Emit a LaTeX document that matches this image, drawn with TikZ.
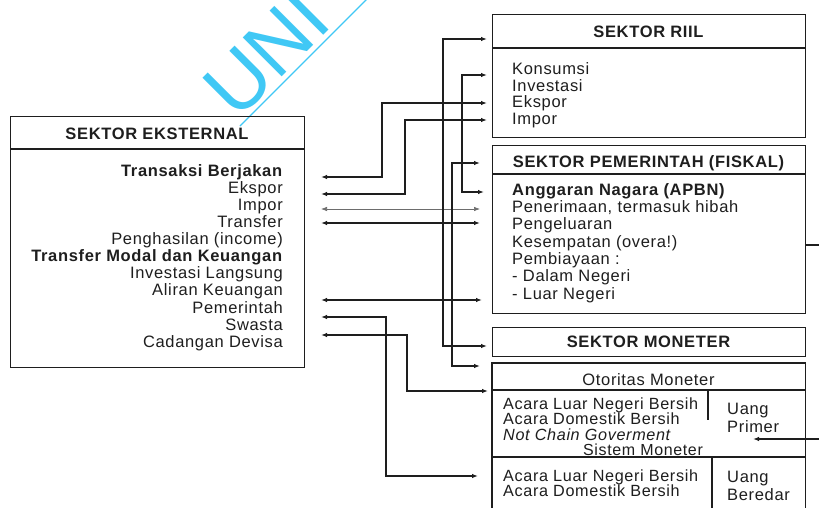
\documentclass[tikz,border=0pt]{standalone}
\usepackage{fontspec}
\setmainfont{Liberation Sans}[LetterSpace=4]
\newfontfamily\wmfont{Liberation Sans}
\usetikzlibrary{arrows.meta}
\definecolor{ink}{HTML}{1E1E1E}
\definecolor{wmc}{RGB}{64,200,245}
\newcommand\txA{\fontsize{16.5}{17.1}\selectfont}
\newcommand\txB{\fontsize{16.5}{16.8}\selectfont}
\newcommand\txC{\fontsize{16.5}{17.3}\selectfont}
\newcommand\txD{\fontsize{16.2}{15.7}\selectfont}
\newcommand\txE{\fontsize{16.5}{18.3}\selectfont}
\newcommand\txF{\fontsize{16}{16}\selectfont}
\newcommand\fs{\rule{0pt}{13pt}}
\begin{document}
\begin{tikzpicture}[x=1pt,y=-1pt,
  boxline/.style={draw=ink, line width=1.4pt},
  box/.style={boxline, inner sep=0, anchor=north west},
  conn/.style={draw=ink, line width=1.2pt, {Latex[length=6pt,width=4.5pt]}-{Latex[length=6pt,width=4.5pt]}},
  oneway/.style={draw=ink, line width=1.2pt, -{Latex[length=6pt,width=4.5pt]}},
  lbl/.style={inner sep=0, text=ink},
  head/.style={lbl, anchor=base, font=\txA\bfseries},
  body/.style={lbl, anchor=north west, align=left}]
\fill[white] (0,0) rectangle (819,507);
\useasboundingbox (0,0) rectangle (819,507);
\begin{scope}
\clip (0,0) rectangle (819,507);
% watermark
\node[inner sep=0, anchor=base west, rotate=45, text=wmc, font=\wmfont\fontsize{80}{80}\selectfont] (wm) at (237,122) {UNI};
\coordinate (wmA) at (240,126);
\coordinate (wmB) at (370,-4);
\draw[wmc, line width=1.3pt] (wmA) -- (wmB);

% boxes
\node[box, minimum width=294pt, minimum height=251pt] (ext) at (10,116) {};
\draw[boxline] (ext.west |- 0,149) -- (ext.east |- 0,149);
\node[box, minimum width=313pt, minimum height=123pt] (riil) at (492,14) {};
\draw[boxline] (riil.west |- 0,48) -- (riil.east |- 0,48);
\node[box, minimum width=313pt, minimum height=168pt] (fis) at (492,145) {};
\draw[boxline] (fis.west |- 0,174) -- (fis.east |- 0,174);
\node[box, minimum width=313pt, minimum height=29pt] (mon) at (492,327) {};
\node[inner sep=0, anchor=north west, minimum width=313pt, minimum height=150pt] (oto) at (492,363) {};
\draw[boxline] (oto.south west) |- (oto.north east) -- (oto.south east);
\draw[boxline] (oto.west |- 0,390) -- (oto.east |- 0,390);
\draw[boxline] (708,390) -- (708,420);
\draw[boxline] (oto.west |- 0,457) -- (oto.east |- 0,457);
\draw[boxline] (712,457) -- (712,513);

% texts
\node[head] (extT) at (157,139) {SEKTOR EKSTERNAL};
\node[lbl, anchor=north east, align=right, font=\txA] (extB) at (283,163)
 {\fs\textbf{Transaksi Berjakan}\\Ekspor\\Impor\\Transfer\\Penghasilan (income)\\\textbf{Transfer Modal dan Keuangan}\\Investasi Langsung\\Aliran Keuangan\\Pemerintah\\Swasta\\Cadangan Devisa};
\node[head] (riilT) at (648.5,37) {SEKTOR RIIL};
\node[body, font=\txB] (riilB) at (512,61) {\fs Konsumsi\\Investasi\\Ekspor\\Impor};
\node[head] (fisT) at (648.5,167) {SEKTOR PEMERINTAH (FISKAL)};
\node[body, font=\txC] (fisB) at (512,182) {\fs\textbf{Anggaran Nagara (APBN)}\\Penerimaan, termasuk hibah\\Pengeluaran\\Kesempatan (overa!)\\Pembiayaan :\\- Dalam Negeri\\- Luar Negeri};
\node[head] (monT) at (648.5,347) {SEKTOR MONETER};
\node[lbl, anchor=base, font=\txA] (otoT) at (648.5,385) {Otoritas Moneter};
\node[body, font=\txD] (otoB) at (503,396) {\fs Acara Luar Negeri Bersih\\Acara Domestik Bersih\\\textit{Not Chain Goverment}};
\node[lbl, anchor=base, font=\txF] (sisT) at (643,455) {Sistem Moneter};
\node[body, font=\txE] (upB) at (727,401) {\fs Uang\\Primer};
\node[body, font=\txD] (lowB) at (503,468) {\fs Acara Luar Negeri Bersih\\Acara Domestik Bersih};
\node[body, font=\txE] (ubB) at (727,469) {\fs Uang\\Beredar};

% connectors
\draw[conn] (321,177) -| (382,103) -- (487,103);
\draw[conn] (321,194) -| (405,120) -- (487,120);
\draw[conn, line width=0.7pt, draw=ink!65] (321,209) -- (480,209);
\draw[conn] (321,223) -- (480,223);
\draw[conn] (321,300) -- (482,300);
\draw[conn] (321,317) -| (386,476) -- (478,476);
\draw[conn] (321,335) -| (407,391) -- (488,391);
\draw[conn] (487,39) -| (443,346) -- (487,346);
\draw[conn] (487,75) -| (462,192) -- (484,192);
\draw[conn] (480,163) -| (452,366) -- (480,366);
\coordinate (offA) at (826,245);
\coordinate (offB) at (826,439);
\draw[oneway] (fis.east |- offA) -- (offA) -- (offB) -- (753,439);
\end{scope}
\end{tikzpicture}
\end{document}
